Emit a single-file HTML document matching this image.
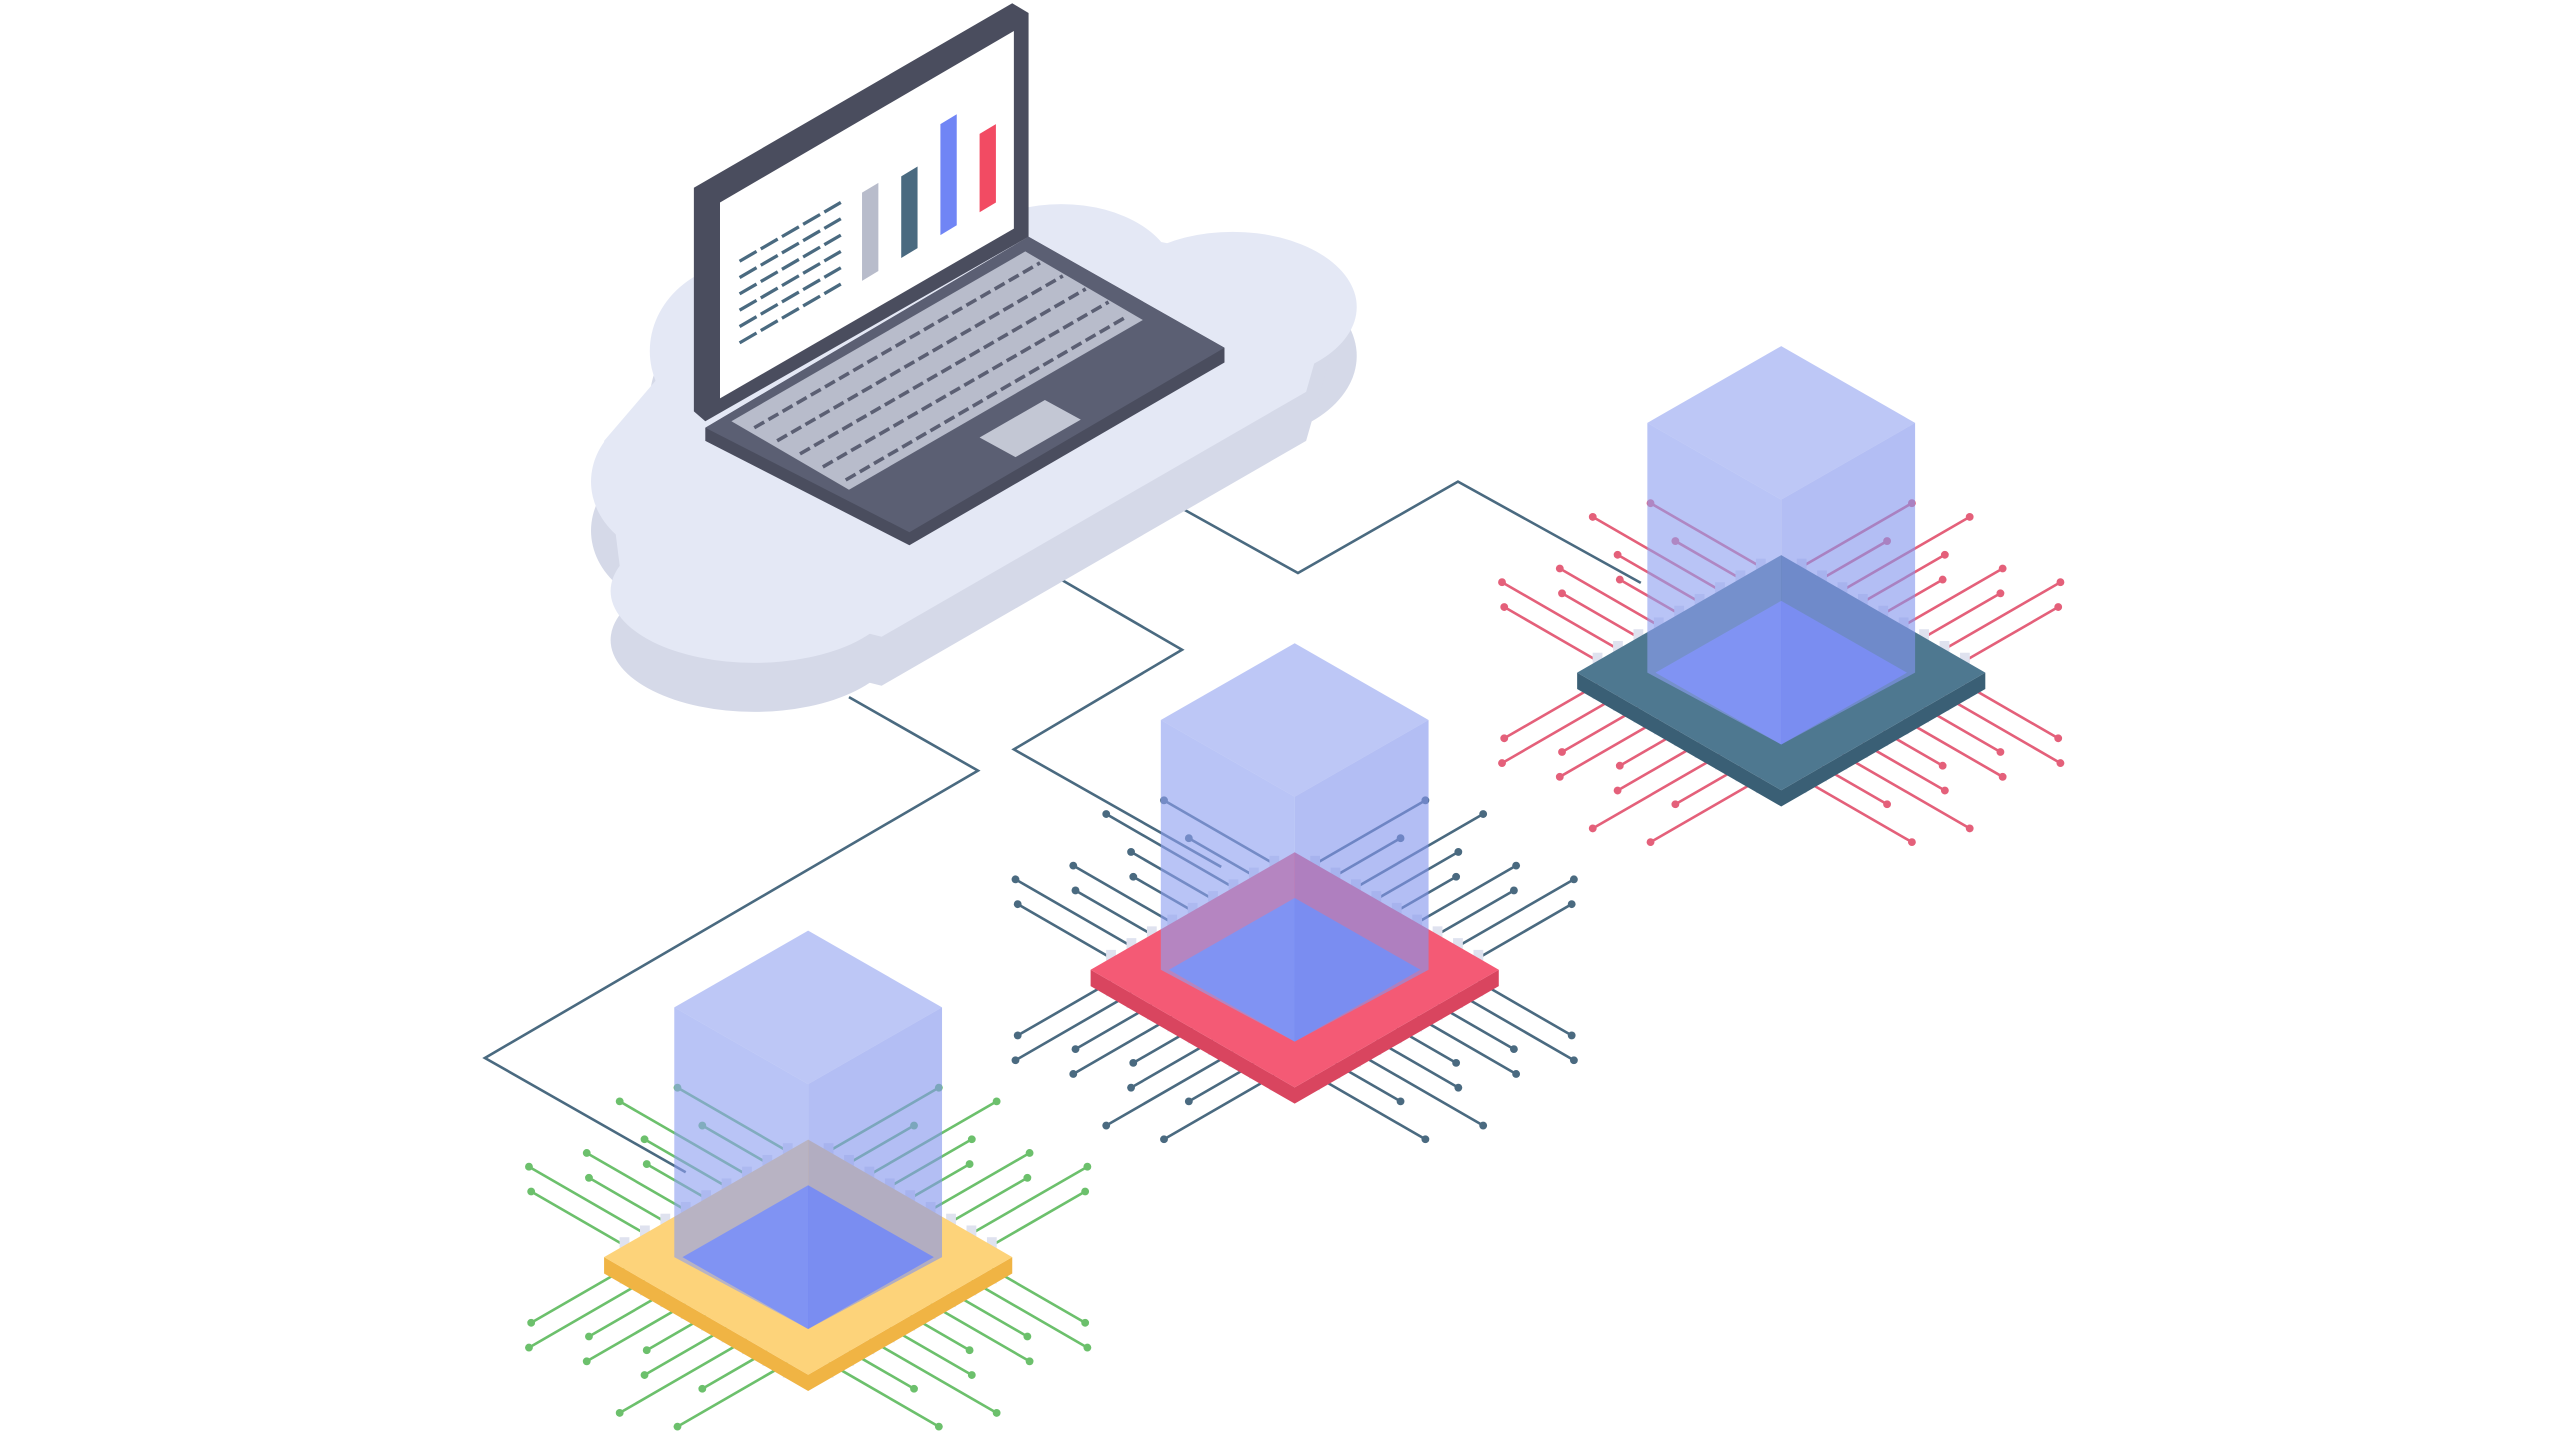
<!DOCTYPE html>
<html><head><meta charset="utf-8"><style>html,body{margin:0;padding:0;background:#fff}svg{display:block}</style></head>
<body>
<svg id="s" width="2560" height="1440" viewBox="0 0 1568 882" xmlns="http://www.w3.org/2000/svg">
<g fill="none" stroke="#4a6a80" stroke-width="1.6">
<polyline points="725,312 795,351 893,295 1005,357"/>
<polyline points="650,355 724,398 621,459 748,531"/>
<polyline points="520,427 599,472 297,648 420,718"/>
</g>
<!-- cloud -->
<g fill="#d5d9e8">
<ellipse cx="462" cy="392" rx="88" ry="44"/><ellipse cx="420" cy="325" rx="58" ry="48"/>
<ellipse cx="460" cy="245" rx="62" ry="55"/><ellipse cx="650" cy="200" rx="70" ry="45"/>
<ellipse cx="755" cy="218" rx="76" ry="52"/>
<polygon points="380,380 540,420 800,270 820,200 620,160 430,230 370,300"/>
</g>
<g fill="#e4e8f5">
<ellipse cx="462" cy="362" rx="88" ry="44"/><ellipse cx="420" cy="295" rx="58" ry="48"/>
<ellipse cx="460" cy="215" rx="62" ry="55"/><ellipse cx="650" cy="170" rx="70" ry="45"/>
<ellipse cx="755" cy="188" rx="76" ry="46"/>
<polygon points="380,350 540,390 800,240 820,170 620,130 430,200 370,270"/>
</g>
<!-- laptop -->
<polygon points="432,262 630,145 750,213 750,222 557,334 432,270" fill="#4a4d5e"/>
<polygon points="432,262 630,145 750,213 557,326" fill="#5b5f73"/>
<polygon points="448,258 628,154 700,196 520,300" fill="#b8bccb"/>
<g stroke="#5b5f73" stroke-width="2.2" stroke-dasharray="7 3">
<line x1="462" y1="262" x2="637" y2="161"/><line x1="476" y1="270" x2="651" y2="169"/>
<line x1="490" y1="278" x2="665" y2="177"/><line x1="504" y1="286" x2="679" y2="185"/>
<line x1="518" y1="294" x2="690" y2="194"/>
</g>
<polygon points="600,268 640,245 662,257 622,280" fill="#c3c7d4"/>
<polygon points="425,115 620,2 630,8 630,145 432,258 425,252" fill="#4a4d5e"/>
<polygon points="441,124 621,19 621,140 441,244" fill="#fff"/>
<g stroke="#4a6a80" stroke-width="2" stroke-dasharray="12 3">
<line x1="453" y1="160" x2="515" y2="124"/><line x1="453" y1="170" x2="515" y2="134"/>
<line x1="453" y1="180" x2="515" y2="144"/><line x1="453" y1="190" x2="515" y2="154"/>
<line x1="453" y1="200" x2="515" y2="164"/><line x1="453" y1="210" x2="515" y2="174"/>
</g>
<polygon points="528,118 538,112 538,166 528,172" fill="#b8bccb"/>
<polygon points="552,108 562,102 562,152 552,158" fill="#4a6a80"/>
<polygon points="576,76 586,70 586,138 576,144" fill="#7085f5"/>
<polygon points="600,82 610,76 610,124 600,130" fill="#f24b63"/>
<g id="chips"></g>
</svg>
<script>
const ns="http://www.w3.org/2000/svg";
const g=document.getElementById('chips');
function el(t,a,p){const e=document.createElementNS(ns,t);for(const k in a)e.setAttribute(k,a[k]);(p||g).appendChild(e);return e;}
const chips=[[1091,412,"#4e7890","#3a5f75","#e4607a"],[793,594,"#f45a75","#d9455f","#4a6a80"],[495,770,"#fdd37a","#f0b444","#6cc06c"]];
const W=125,H=72,w=77,h=44,T=10;
for(const [cx,cy,top,side,tc] of chips){
 const grp=el('g',{});
 const dirs=[[-1,-1],[1,-1],[1,1],[-1,1]];
 for(const [sx,sy] of dirs){
  for(let i=1;i<=9;i++){
   const t=i/10;
   const px=cx+sx*W*(1-t), py=cy+sy*H*t;
   const L=34+((i*37)%5)*12+(i%2)*8;
   const dx=sx*0.866, dy=sy*0.5;
   const ex=px+dx*L, ey=py+dy*L;
   el('line',{x1:px,y1:py,x2:ex,y2:ey,stroke:tc,'stroke-width':1.6},grp);
   el('circle',{cx:ex,cy:ey,r:2.4,fill:tc},grp);
   el('rect',{x:px-3,y:py-3+(sy>0?4:-2),width:6,height:8,fill:'#dfe2ef'},grp);
  }
 }
 el('polygon',{points:`${cx-W},${cy} ${cx},${cy+H} ${cx+W},${cy} ${cx+W},${cy+T} ${cx},${cy+H+T} ${cx-W},${cy+T}`,fill:side},grp);
 el('polygon',{points:`${cx-W},${cy} ${cx},${cy-H} ${cx+W},${cy} ${cx},${cy+H}`,fill:top},grp);
 el('polygon',{points:`${cx-w},${cy} ${cx},${cy-h} ${cx+w},${cy} ${cx},${cy+h}`,fill:'#6a7ff7'},grp);
 const cw=82,ch=47,topY=cy-200;
 el('polygon',{points:`${cx},${topY} ${cx+cw},${topY+ch} ${cx},${topY+2*ch} ${cx-cw},${topY+ch}`,fill:'#a4b2f2','fill-opacity':0.72},grp);
 el('polygon',{points:`${cx-cw},${topY+ch} ${cx},${topY+2*ch} ${cx},${cy+h} ${cx-cw},${cy}`,fill:'#8e9ff0','fill-opacity':0.62},grp);
 el('polygon',{points:`${cx+cw},${topY+ch} ${cx},${topY+2*ch} ${cx},${cy+h} ${cx+cw},${cy}`,fill:'#8496ee','fill-opacity':0.62},grp);
}
</script>
</body></html>
